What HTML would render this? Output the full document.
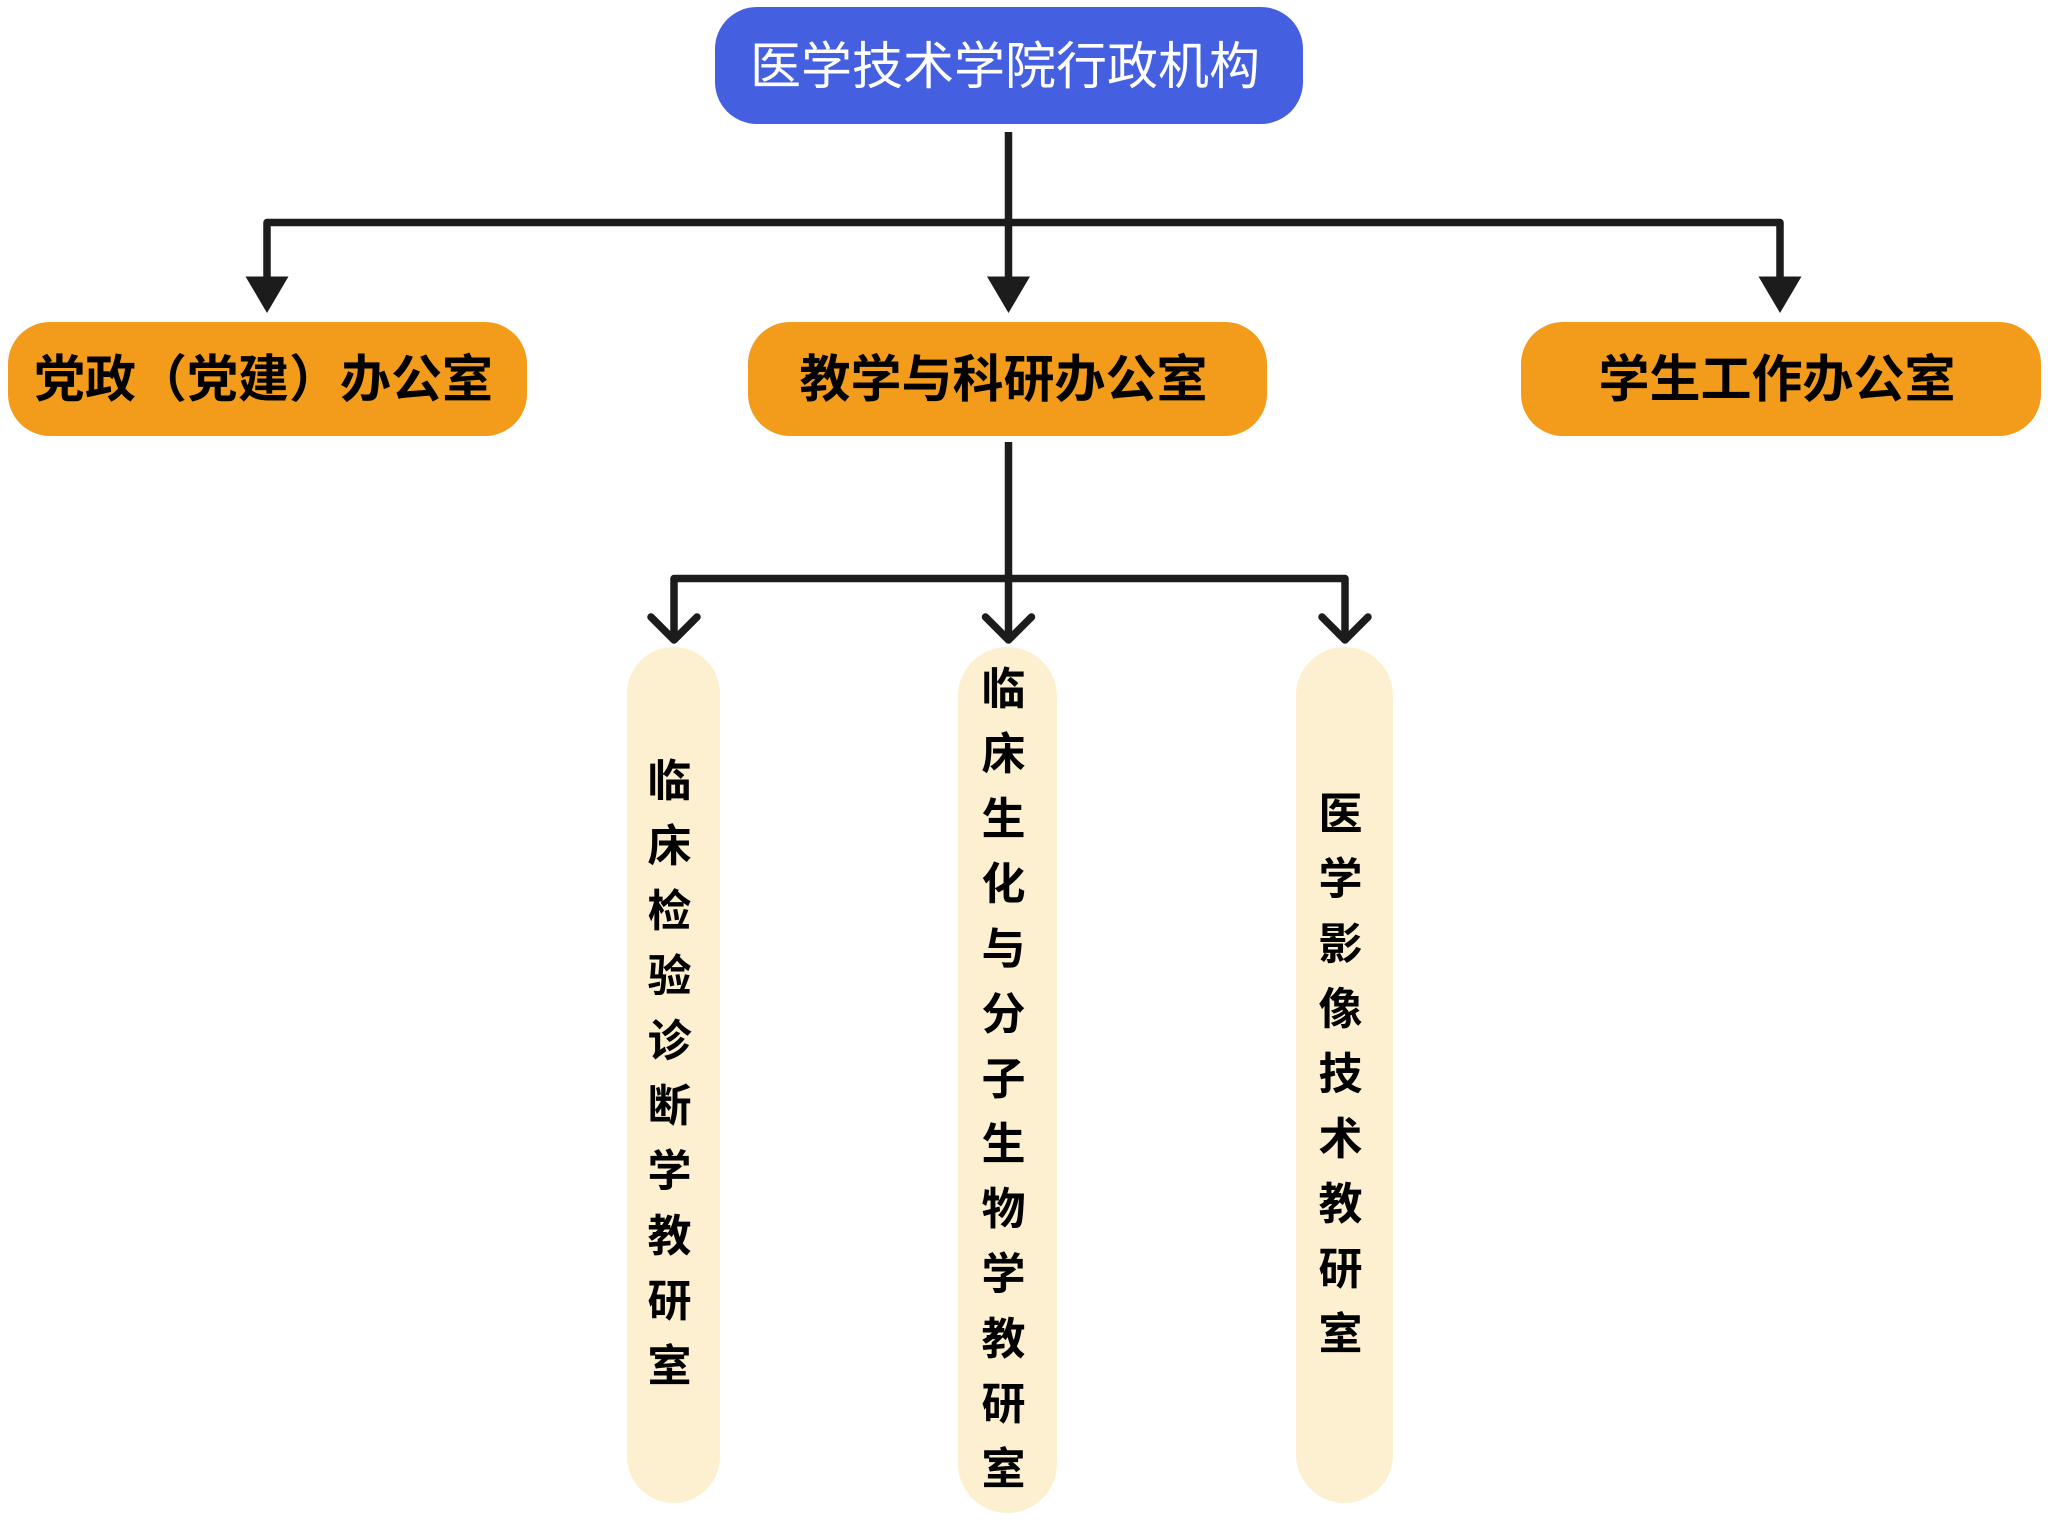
<!DOCTYPE html>
<html>
<head>
<meta charset="utf-8">
<style>
  html, body { margin:0; padding:0; background:#ffffff; }
  body { width:2048px; height:1520px; position:relative; overflow:hidden;
         font-family:"Liberation Sans","Noto Sans CJK SC",sans-serif; }
  .box { position:absolute; display:flex; align-items:center; justify-content:center; box-sizing:border-box; }
  .box > span { position:relative; left:-4px; top:-4px; white-space:nowrap; }
  .top { left:715px; top:7px; width:588px; height:117px; background:#4460E0; border-radius:42px;
         color:#ffffff; font-size:51px; font-weight:400; }
  .org { top:322px; height:114px; background:#F39C1C; border-radius:42px; color:#000; font-size:51px; font-weight:700; }
  .col { top:647px; background:#FCF0D0; border-radius:50px; color:#000; font-size:44px; font-weight:700; }
  .vt { width:44px; line-height:65px; text-align:center; position:relative; left:-4px; top:-1px; }
  svg { position:absolute; left:0; top:0; }
</style>
</head>
<body>
<svg width="2048" height="1520" viewBox="0 0 2048 1520">
  <g stroke="#1c1c1c" stroke-width="7.5" fill="none" stroke-linejoin="round">
    <line x1="1008.5" y1="132" x2="1008.5" y2="280"/>
    <polyline points="267,280 267,222.5 1780,222.5 1780,280"/>
    <line x1="1008.5" y1="442" x2="1008.5" y2="638"/>
    <polyline points="674,638 674,578.5 1345,578.5 1345,638"/>
  </g>
  <g fill="#1c1c1c">
    <polygon points="245.5,276.5 288.5,276.5 267,313"/>
    <polygon points="987,276.5 1030,276.5 1008.5,313"/>
    <polygon points="1758.5,276.5 1801.5,276.5 1780,313"/>
  </g>
  <g stroke="#1c1c1c" stroke-width="7.5" fill="none" stroke-linecap="round" stroke-linejoin="round">
    <polyline points="651,617 674,640 697,617"/>
    <polyline points="985.5,617 1008.5,640 1031.5,617"/>
    <polyline points="1322,617 1345,640 1368,617"/>
  </g>
</svg>

<div class="box top"><span>医学技术学院行政机构</span></div>

<div class="box org" style="left:8px; width:519px;"><span>党政（党建）办公室</span></div>
<div class="box org" style="left:748px; width:519px;"><span>教学与科研办公室</span></div>
<div class="box org" style="left:1521px; width:520px;"><span>学生工作办公室</span></div>

<div class="box col" style="left:627px; width:93px; height:856px;">
  <div class="vt">临<br>床<br>检<br>验<br>诊<br>断<br>学<br>教<br>研<br>室</div>
</div>
<div class="box col" style="left:958px; width:99px; height:866px;">
  <div class="vt">临<br>床<br>生<br>化<br>与<br>分<br>子<br>生<br>物<br>学<br>教<br>研<br>室</div>
</div>
<div class="box col" style="left:1296px; width:97px; height:856px;">
  <div class="vt">医<br>学<br>影<br>像<br>技<br>术<br>教<br>研<br>室</div>
</div>
</body>
</html>
